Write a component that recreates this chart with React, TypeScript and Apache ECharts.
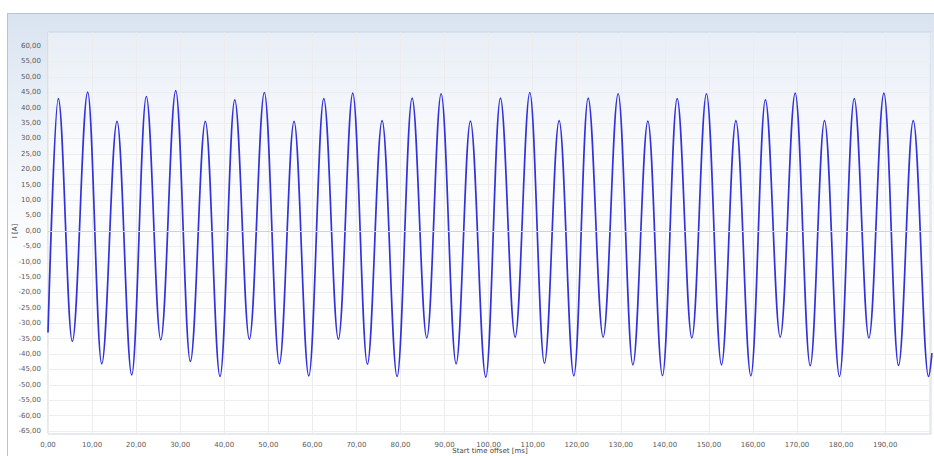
import React, { useEffect, useRef } from "react";
import * as echarts from "echarts";

// Time of each extreme (peak / trough) of the current waveform, in ms
const timeMs = [
  0, 2.34, 5.51, 9.0, 12.18, 15.65, 18.98, 22.29, 25.56, 28.96, 32.27, 35.67, 39.0,
  42.34, 45.65, 49.05, 52.45, 55.78, 59.12, 62.52, 65.83, 69.09, 72.4, 75.74, 79.14,
  82.54, 85.87, 89.12, 92.52, 95.76, 99.25, 102.56, 105.9, 109.23, 112.54, 115.87,
  119.21, 122.45, 125.85, 129.25, 132.59, 135.99, 139.3, 142.63, 145.96, 149.27,
  152.68, 155.94, 159.34, 162.63, 165.99, 169.39, 172.79, 176.03, 179.43, 182.77,
  186.1, 189.5, 192.81, 196.15, 199.61, 200.38,
];

// Current at those instants, in A
const currentA = [
  -33, 42.9, -35.9, 45.0, -43.2, 35.5, -46.8, 43.6, -35.4, 45.5, -42.4, 35.5, -47.3,
  42.5, -35.2, 44.9, -43.2, 35.5, -47.1, 42.9, -35.2, 44.7, -43.3, 35.8, -47.3,
  43.1, -34.8, 44.5, -43.2, 35.6, -47.5, 43.1, -34.5, 44.9, -43.0, 35.8,
  -47.1, 43.1, -34.5, 44.5, -43.5, 35.6, -47.0, 42.9, -34.8, 44.5,
  -43.5, 35.8, -47.1, 42.5, -34.5, 44.7, -43.8, 35.8, -47.3, 42.9,
  -34.8, 44.7, -43.7, 35.8, -47.3, -39.7,
];

const xMin = 0;
const xMax = 200.4;
const xStep = 10;
const xLastLabel = 190;
const yMin = -65;
const yMax = 60;
const yStep = 5;

const yAxisTitle = "I [A]";
const xAxisTitle = "Start time offset [ms]";

const fmt = (v: number) => v.toFixed(2).replace(".", ",");

export default function App() {
  const ref = useRef<HTMLDivElement>(null);

  useEffect(() => {
    if (!ref.current) return;
    const chart = echarts.init(ref.current, null, { renderer: "svg" });
    const labelFont = {
      fontFamily: "DejaVu Sans",
      fontSize: 7,
      color: "#5a5a5a",
    };
    const data = timeMs.map((t, i) => [t, currentA[i]]);

    chart.setOption({
      animation: false,
      grid: [
        {
          left: 48,
          right: 2,
          top: 32,
          bottom: 22,
          show: true,
          backgroundColor: new echarts.graphic.LinearGradient(0, 0, 0, 1, [
            { offset: 0, color: "#e8eef7" },
            { offset: 0.3, color: "#fafbfd" },
            { offset: 1, color: "#ffffff" },
          ]),
          borderColor: "#cdd4dc",
          borderWidth: 1,
        },
        { left: 48, right: 2, top: 46, bottom: 25 },
      ],
      xAxis: [
        {
          gridIndex: 0,
          type: "value",
          min: xMin,
          max: xMax,
          interval: xStep,
          axisLine: { show: false },
          axisTick: { show: false },
          splitLine: { show: true, lineStyle: { color: "#ececec", width: 1 } },
          axisLabel: {
            ...labelFont,
            margin: 7,
            formatter: (v: number) =>
              Math.abs(v % xStep) < 1e-6 && v <= xLastLabel ? fmt(v) : "",
          },
        },
        { gridIndex: 1, type: "value", min: xMin, max: xMax, show: false },
      ],
      yAxis: [
        { gridIndex: 0, type: "value", min: 0, max: 1, show: false },
        {
          gridIndex: 1,
          type: "value",
          min: yMin,
          max: yMax,
          interval: yStep,
          axisLine: { show: false },
          axisTick: { show: false },
          splitLine: { show: true, lineStyle: { color: "#eeeeee", width: 1 } },
          axisLabel: { ...labelFont, margin: 7, formatter: (v: number) => fmt(v) },
        },
      ],
      series: [
        {
          type: "line",
          xAxisIndex: 1,
          yAxisIndex: 1,
          data,
          smooth: 0.36,
          smoothMonotone: "x",
          symbol: "none",
          showSymbol: false,
          lineStyle: { color: "#3232dc", width: 1.7 },
          markLine: {
            silent: true,
            symbol: "none",
            label: { show: false },
            lineStyle: { color: "#d2d2d2", type: "solid", width: 1 },
            data: [{ yAxis: 0 }],
          },
        },
      ],
      graphic: [
        {
          type: "text",
          x: 15,
          y: 231,
          rotation: Math.PI / 2,
          style: {
            text: yAxisTitle,
            fontFamily: "DejaVu Sans",
            fontSize: 7,
            fill: "#444",
            align: "center",
            verticalAlign: "middle",
          },
        },
        {
          type: "text",
          x: 490,
          y: 451,
          style: {
            text: xAxisTitle,
            fontFamily: "DejaVu Sans",
            fontSize: 7,
            fill: "#444",
            align: "center",
            verticalAlign: "middle",
          },
        },
      ],
    });
    return () => chart.dispose();
  }, []);

  return (
    <div
      style={{
        position: "fixed",
        left: 0,
        top: 0,
        width: 934,
        height: 456,
        overflow: "hidden",
        background: "#ffffff",
      }}
    >
      <div
        style={{
          position: "absolute",
          left: 7,
          top: 13,
          width: 960,
          height: 480,
          border: "1px solid #b9c3ce",
          background:
            "linear-gradient(to bottom, #d9e3f0 0px, #eef3f9 120px, #ffffff 260px)",
        }}
      />
      <div
        ref={ref}
        style={{ position: "absolute", left: 0, top: 0, width: 934, height: 456 }}
      />
    </div>
  );
}
